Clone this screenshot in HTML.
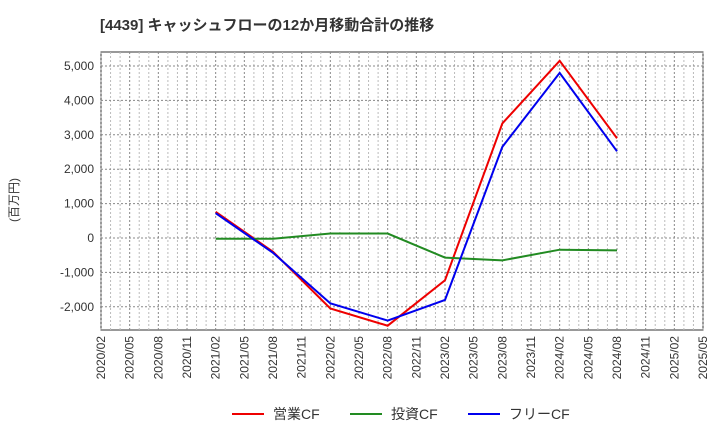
<!DOCTYPE html>
<html><head><meta charset="utf-8">
<style>
body{margin:0;background:#fff;font-family:"Liberation Sans","Noto Sans CJK JP",sans-serif;}
</style></head>
<body>
<svg id="chart" width="720" height="440" xmlns="http://www.w3.org/2000/svg" font-family="Liberation Sans, Noto Sans CJK JP, sans-serif">
<text x="100" y="30" font-size="15" font-weight="bold" fill="#333">[4439]  キャッシュフローの12か月移動合計の推移</text>
<text transform="translate(18,200) rotate(-90)" font-size="12" fill="#333" text-anchor="middle">(百万円)</text>
<rect x="101" y="52" width="602" height="278" fill="#fff" stroke="#333"/>
<g id="grid"></g><g id="yt"></g><g id="xt"></g><g id="series"></g>
<g font-size="14" fill="#333">
<line x1="232" y1="414" x2="264" y2="414" stroke="#e00" stroke-width="2"/><text x="273" y="419">営業CF</text>
<line x1="350" y1="414" x2="382" y2="414" stroke="#228b22" stroke-width="2"/><text x="391" y="419">投資CF</text>
<line x1="468" y1="414" x2="500" y2="414" stroke="#00e" stroke-width="2"/><text x="509" y="419">フリーCF</text>
</g>
</svg>
<script>
const xLabels=["2020/02","2020/05","2020/08","2020/11","2021/02","2021/05","2021/08","2021/11","2022/02","2022/05","2022/08","2022/11","2023/02","2023/05","2023/08","2023/11","2024/02","2024/05","2024/08","2024/11","2025/02","2025/05"];
const yTicks=[-2000,-1000,0,1000,2000,3000,4000,5000];
const periods=["2021/02","2021/08","2022/02","2022/08","2023/02","2023/08","2024/02","2024/08"];
const opCF=[760,-400,-2050,-2550,-1230,3330,5150,2900];
const invCF=[-20,-20,130,130,-570,-650,-340,-360];
const freeCF=[720,-430,-1900,-2400,-1800,2650,4800,2520];
const NS="http://www.w3.org/2000/svg";
const X0=101,X1=703;
const STEP=(X1-X0)/(xLabels.length-1);
function xPos(lbl){return X0+xLabels.indexOf(lbl)*STEP;}
function yPos(v){return 238-v*0.0344;}
function mk(t,a,p){const e=document.createElementNS(NS,t);for(const k in a)e.setAttribute(k,a[k]);p.appendChild(e);return e;}
const grid=document.getElementById('grid'),yt=document.getElementById('yt'),xt=document.getElementById('xt'),ser=document.getElementById('series');
for(let m=1;m<(xLabels.length-1)*3;m++){if(m%3===0)continue;const x=X0+m*STEP/3;
 const g=mk('line',{x1:x,x2:x,y1:52,y2:330,stroke:'#bbb','stroke-dasharray':'2,2'},grid);
 
 }
yTicks.forEach(v=>{const y=yPos(v);
 const l=mk('line',{x1:X0,x2:X1,y1:y,y2:y,stroke:'#888','stroke-dasharray':'2,2'},grid);
 
 
 const t=mk('text',{x:94,y:y+4,'font-size':12,'text-anchor':'end',fill:'#333'},yt);t.textContent=v.toLocaleString('en-US');
 
 });
xLabels.forEach(l=>{const x=xPos(l);
 const g=mk('line',{x1:x,x2:x,y1:52,y2:330,stroke:'#888','stroke-dasharray':'2,2'},grid);
 
 
 const t=mk('text',{transform:`translate(${x+4},336) rotate(-90)`,'font-size':12,'text-anchor':'end',fill:'#333'},xt);t.textContent=l;
 
 });
[[opCF,'#e00','operating-cf-line'],[invCF,'#228b22','investing-cf-line'],[freeCF,'#00e','free-cf-line']].forEach(([d,c,n])=>{
 const p=mk('polyline',{points:d.map((v,i)=>xPos(periods[i])+','+yPos(v)).join(' '),fill:'none',stroke:c,'stroke-width':2},ser);
 
 });
</script>
</body></html>
